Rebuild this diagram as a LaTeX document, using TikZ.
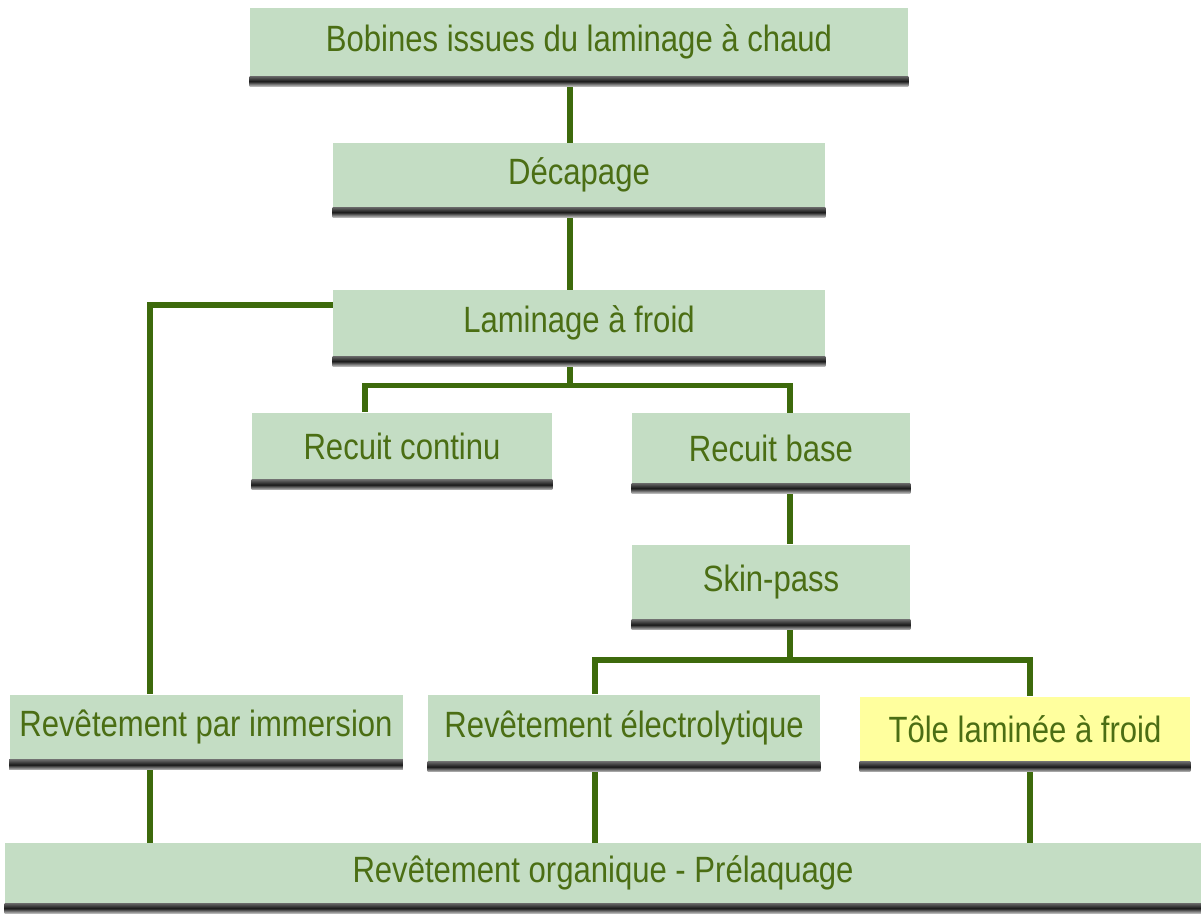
\documentclass[tikz,border=0pt]{standalone}
\usepackage{fontspec}
\setmainfont{Liberation Sans}[FakeStretch=0.85]
\usetikzlibrary{calc}

\definecolor{boxgreen}{HTML}{C4DDC4}
\definecolor{textgreen}{HTML}{4B6E14}
\definecolor{linegreen}{HTML}{3D6A0C}
\definecolor{toleyellow}{HTML}{FFFF9E}

\newlength\px
\setlength\px{0.025cm}

\tikzset{
	etape/.style={rectangle, fill=boxgreen, text=textgreen, inner sep=0pt,
		font=\fontsize{26}{30}\selectfont},
	lien/.style={draw=linegreen, line width=5.5\px},
	ombre/.style={top color=black!60, bottom color=black!25, middle color=black!90}
}

\begin{document}
\begin{tikzpicture}[x=\px, y=-\px]
		\useasboundingbox (0,0) rectangle (1201,920);
		
		%boxes
		\node[etape, minimum width=658\px, minimum height=68\px] (bob) at (579,42) {Bobines issues du laminage à chaud};
		\node[etape, minimum width=492\px, minimum height=64\px] (dec) at (579,175) {Décapage};
		\node[etape, minimum width=492\px, minimum height=66\px] (lam) at (579,323) {Laminage à froid};
		\node[etape, minimum width=300\px, minimum height=67\px] (rc) at (402,446) {Recuit continu};
		\node[etape, minimum width=278\px, minimum height=70\px] (rb) at (771,448) {Recuit base};
		\node[etape, minimum width=278\px, minimum height=75\px] (sp) at (771,582) {Skin-pass};
		\node[etape, minimum width=393\px, minimum height=65\px] (imm) at (206,727) {Revêtement par immersion};
		\node[etape, minimum width=392\px, minimum height=67\px] (el) at (624,728) {Revêtement électrolytique};
		\node[etape, fill=toleyellow, minimum width=330\px, minimum height=65\px] (tole) at (1025,729) {Tôle laminée à froid};
		\node[etape, minimum width=1196\px, minimum height=60\px] (org) at (603,873) {Revêtement organique - Prélaquage};
		
		%connect the boxes
		\draw[lien] ([xshift=-9\px]bob.south) -- ([xshift=-9\px]dec.north);
		\draw[lien] ([xshift=-9\px]dec.south) -- ([xshift=-9\px]lam.north);
		\draw[lien] ([yshift=18\px]lam.west) -| ([xshift=-56\px]imm.north);
		
		\draw[lien] ([xshift=-9\px]lam.south) -- ([xshift=-9\px,yshift=-29\px]lam.south) coordinate (fork1);
		\draw[lien] ([xshift=-37\px]rc.north) |- (fork1) -| ([xshift=19\px]rb.north);
		\draw[lien] ([xshift=19\px]rb.south) -- ([xshift=19\px]sp.north);
		
		\draw[lien] ([xshift=19\px]sp.south) -- ([xshift=19\px,yshift=-40\px]sp.south) coordinate (fork2);
		\draw[lien] ([xshift=-29\px]el.north) |- (fork2) -| ([xshift=5\px]tole.north);
		
		\coordinate (immx) at ([xshift=-56\px]imm.south);
		\coordinate (elx) at ([xshift=-29\px]el.south);
		\coordinate (tolex) at ([xshift=5\px]tole.south);
		\draw[lien] (immx) -- (immx |- org.north);
		\draw[lien] (elx) -- (elx |- org.north);
		\draw[lien] (tolex) -- (tolex |- org.north);
		
		%shadows
		\foreach \n in {bob,dec,lam,rc,rb,sp,imm,el,tole,org}
		\shade[ombre] (\n.south west) rectangle ([yshift=-10\px]\n.south east);
\end{tikzpicture}
\end{document}
